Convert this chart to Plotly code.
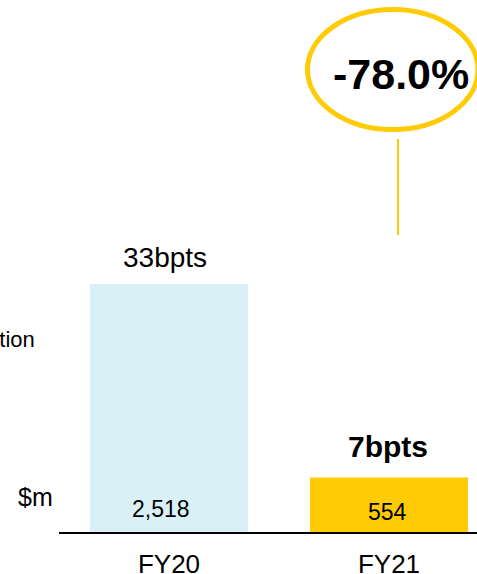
import plotly.graph_objects as go

categories = ["FY20", "FY21"]
values = [2518, 554]
value_labels = ["2,518", "554"]
bpts_labels = ["33bpts", "7bpts"]
bar_colors = ["#DAF0F7", "#FFCB05"]
change_label = "-78.0%"
side_label = "Loan impairment charge as a percentage of average gross loans, annualised basis for the period of comparison – deterioration"
unit_label = "$m"

FONT = "Liberation Sans, Arial, sans-serif"
YELLOW = "#FFCB05"

fig = go.Figure()
fig.add_trace(go.Bar(
    x=categories, y=values,
    marker=dict(color=bar_colors, line=dict(width=0)),
    hoverinfo="skip",
))

annotations = []
# value labels near bar base
for c, lab, ys in zip(categories, value_labels, [23, 20]):
    annotations.append(dict(x=c, y=0, xref="x", yref="y", text=lab, showarrow=False,
                            yanchor="middle", yshift=ys, xshift=-8 if c == "FY20" else -2,
                            font=dict(family=FONT, size=23, color="#000000")))
# bpts labels above bars
for i, (c, v, lab) in enumerate(zip(categories, values, bpts_labels)):
    bold = i == 1
    annotations.append(dict(x=c, y=v, xref="x", yref="y",
                            text=f"<b>{lab}</b>" if bold else lab, showarrow=False,
                            yanchor="middle", yshift=26 if not bold else 31,
                            xshift=-4 if not bold else -1,
                            font=dict(family=FONT, size=30 if bold else 28, color="#000000")))
# change label in ellipse
annotations.append(dict(x=0.818, y=0.861, xref="paper", yref="paper", text=f"<b>{change_label}</b>",
                        showarrow=False, xanchor="center", yanchor="middle",
                        font=dict(family=FONT, size=43, color="#000000")))
# left side labels
annotations.append(dict(x=-0.0526, y=0.361, xref="paper", yref="paper", text=side_label,
                        showarrow=False, xanchor="right", yanchor="middle",
                        font=dict(family=FONT, size=22, color="#000000")))
annotations.append(dict(x=-0.0096, y=0.066, xref="paper", yref="paper", text=unit_label,
                        showarrow=False, xanchor="right", yanchor="middle",
                        font=dict(family=FONT, size=25, color="#000000")))

shapes = [
    dict(type="circle", xref="paper", yref="paper", x0=0.5945, x1=1.0024, y0=0.7566, y1=0.9821,
         line=dict(color=YELLOW, width=5), fillcolor="rgba(0,0,0,0)", layer="above"),
    dict(type="line", xref="paper", yref="paper", x0=0.811, x1=0.811, y0=0.5583, y1=0.7387,
         line=dict(color=YELLOW, width=2)),
]

fig.update_layout(
    width=477, height=574,
    margin=dict(l=59, r=0, t=0, b=42),
    paper_bgcolor="white", plot_bgcolor="white",
    bargap=0.282,
    showlegend=False,
    annotations=annotations,
    shapes=shapes,
    font=dict(family=FONT, color="#000000"),
    xaxis=dict(range=[-0.5, 1.4], showline=True, linecolor="#000000", linewidth=1.5,
               showgrid=False, zeroline=False, ticks="", tickfont=dict(family=FONT, size=26, color="#000000"),
               ticklabelstandoff=8, fixedrange=True, automargin=False),
    yaxis=dict(range=[0, 5401], visible=False, showgrid=False, zeroline=False, fixedrange=True,
               automargin=False),
)

post = (
    "var s=document.createElement('style');"
    "s.textContent='html,body{margin:0;padding:0;overflow:hidden;height:574px;width:477px;}';"
    "document.head.appendChild(s);"
)
fig.write_html("out.html", config={"displayModeBar": False}, post_script=post)
